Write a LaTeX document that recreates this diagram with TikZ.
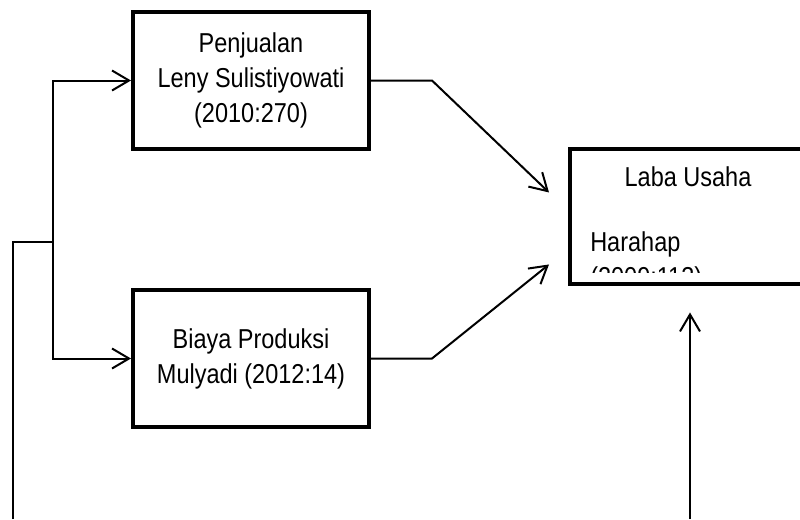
\documentclass[tikz,border=0pt]{standalone}
\usepackage{fontspec}
\setmainfont{Liberation Sans}[FakeStretch=0.86]
\usetikzlibrary{calc}
\usetikzlibrary{positioning, arrows.meta}

\begin{document}
\begin{tikzpicture}[
  x=0.75pt, y=-0.75pt,
  node distance=102.75pt and 147.75pt,
  block/.style={draw, line width=3pt, rectangle, minimum height=102.75pt, minimum width=177pt, align=center, font=\fontsize{20.5pt}{26.25pt}\selectfont},
  txt/.style={inner sep=0pt, font=\fontsize{20.5pt}{26.25pt}\selectfont},
  arrow/.style={-{Straight Barb[length=12.75pt,width=15pt]}, line width=1.5pt}
]
\useasboundingbox (0,0) rectangle (800,519);

\node[block] (penjualan) at (251,80.5) {Penjualan\\Leny Sulistiyowati\\(2010:270)};
\node[block, below=of penjualan] (biaya) {Biaya Produksi\\Mulyadi (2012:14)};
\path (penjualan.east) -- (biaya.east) coordinate[midway] (mid);
\node[block, right=of mid, yshift=1.9pt, minimum height=101.25pt] (laba) {};

\begin{scope}
  \clip (laba.north west) rectangle ($(laba.south east)+(0,-14)$);
  \node[txt, anchor=base] (title) at ($(laba.north)+(0,38.7)$) {Laba Usaha};
  \node[txt, anchor=base west] (ref) at ($(laba.north west)+(22,103.7)$) {Harahap};
  \node[txt, anchor=base west] (year) at ($(ref.base west)+(0,35)$) {(2009:113)};
\end{scope}

\coordinate (in1) at ($(laba.west)+(-19,-24.5)$);
\coordinate (in2) at ($(laba.west)+(-19,47.5)$);
\coordinate (feed) at (13,519);
\coordinate (split) at (53,242);
\coordinate (base) at (690,519);
\coordinate (uptip) at ($(laba.south)+(2,26)$);

\draw[line width=1.5pt] (feed) |- (split);
\draw[arrow] (split) |- (penjualan.west);
\draw[arrow] (split) |- (biaya.west);
\draw[arrow] (penjualan.east) -- ++(61,0) -- (in1);
\draw[arrow] (biaya.east) -- ++(61,0) -- (in2);
\draw[arrow] (base) -- (uptip);

\end{tikzpicture}
\end{document}
